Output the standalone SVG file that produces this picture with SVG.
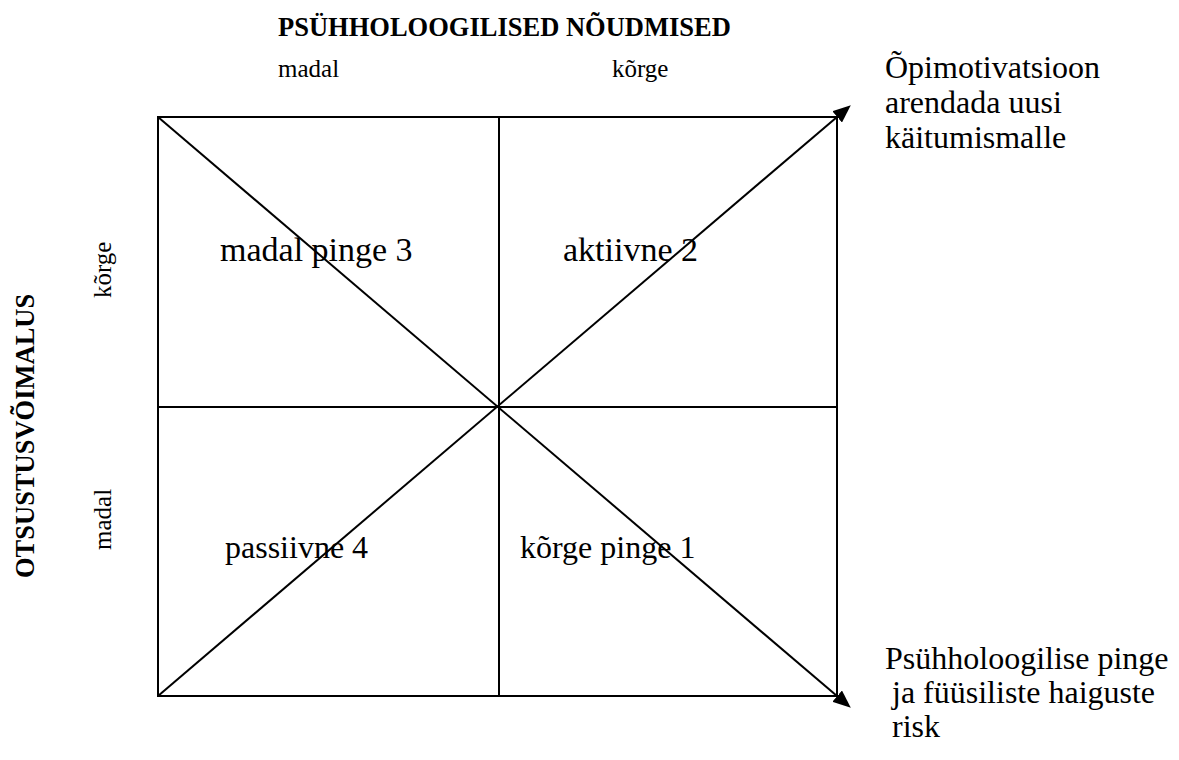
<svg xmlns="http://www.w3.org/2000/svg" width="1179" height="760" viewBox="0 0 1179 760">
<style>
  text { font-family: "Liberation Serif", "Times New Roman", serif; fill: #000; }
  .title { font-size: 26.5px; font-weight: bold; }
  .axis { font-size: 25px; }
  .quad { font-size: 32px; }
  .quad-up { font-size: 34px; }
  .note { font-size: 32px; }
  .ln { stroke: #000; stroke-width: 2; fill: none; }
</style>
<defs>
  <marker id="arrow" markerUnits="userSpaceOnUse" markerWidth="18" markerHeight="15" refX="13" refY="7.5" orient="auto">
    <path d="M0,0 L18,7.5 L0,15 z" fill="#000"/>
  </marker>
</defs>
<rect width="1179" height="760" fill="#fff"/>

<g id="grid">
  <rect class="ln" x="158" y="117" width="679" height="579"/>
  <line class="ln" x1="499" y1="117" x2="499" y2="696"/>
  <line class="ln" x1="158" y1="407" x2="837" y2="407"/>
</g>

<g id="connectors">
  <line class="ln" x1="158" y1="117" x2="847" y2="704.6" marker-end="url(#arrow)"/>
  <line class="ln" x1="158" y1="696" x2="847" y2="108.4" marker-end="url(#arrow)"/>
</g>

<g id="title-top">
  <text class="title" x="278" y="36">PSÜHHOLOOGILISED NÕUDMISED</text>
</g>
<g id="label-top-madal"><text class="axis" x="278" y="77">madal</text></g>
<g id="label-top-korge"><text class="axis" x="612" y="77">kõrge</text></g>

<g id="title-left">
  <text class="title" transform="translate(34,578) rotate(-90)">OTSUSTUSVÕIMALUS</text>
</g>
<g id="label-left-korge"><text class="axis" transform="translate(111,298) rotate(-90)">kõrge</text></g>
<g id="label-left-madal"><text class="axis" transform="translate(111,550) rotate(-90)">madal</text></g>

<g id="q3"><text class="quad-up" x="220" y="261">madal pinge 3</text></g>
<g id="q2"><text class="quad-up" x="563" y="261">aktiivne 2</text></g>
<g id="q4"><text class="quad" x="225" y="558">passiivne 4</text></g>
<g id="q1"><text class="quad" x="520" y="558">kõrge pinge 1</text></g>

<g id="note-top">
  <text class="note" x="885" y="78">Õpimotivatsioon</text>
  <text class="note" x="885" y="113">arendada uusi</text>
  <text class="note" x="885" y="148">käitumismalle</text>
</g>
<g id="note-bottom">
  <text class="note" x="885" y="669">Psühholoogilise pinge</text>
  <text class="note" x="892" y="703">ja füüsiliste haiguste</text>
  <text class="note" x="892" y="737">risk</text>
</g>
</svg>
